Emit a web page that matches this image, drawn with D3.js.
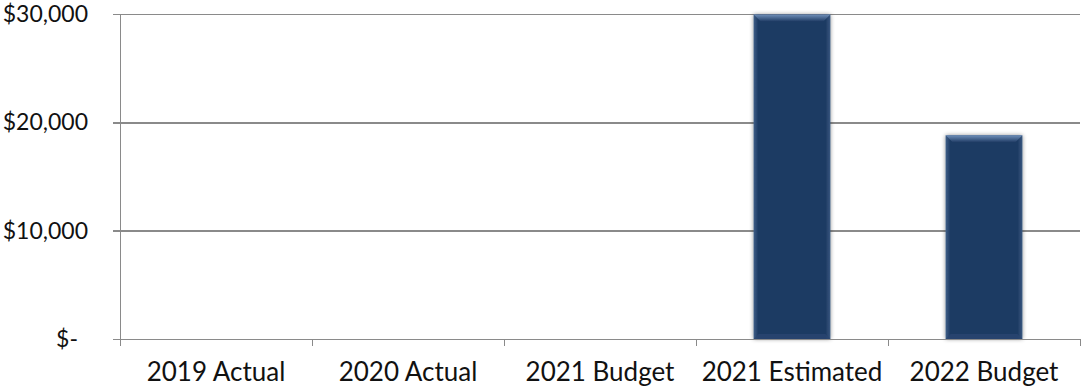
<!DOCTYPE html>
<html lang="en">
<head>
<meta charset="utf-8">
<title>Budget chart</title>
<script src="https://cdn.jsdelivr.net/npm/d3@7"></script>
<style>
  body { margin: 0; background: white; }
  .axis text { font-family: "Century Gothic", Lato, sans-serif; fill: #111; }
  .axis path, .axis line { stroke: #8a8a8a; stroke-width: 1.4px; shape-rendering: crispEdges; }
</style>
</head>
<body>
<div class="chart"></div>
<script>
var categories = ["2019 Actual", "2020 Actual", "2021 Budget", "2021 Estimated", "2022 Budget"];
var values = [0, 0, 0, 29950, 18800];
var yTicks = [0, 10000, 20000, 30000];

var W = 1083, H = 388;
var margin = {top: 14, right: 3, bottom: 49, left: 120};
var width = W - margin.left - margin.right,
    height = H - margin.top - margin.bottom;

var svg = d3.select(".chart").append("svg")
    .attr("width", W).attr("height", H);

var defs = svg.append("defs");
// soft shadow round the bars
var f = defs.append("filter").attr("id", "shadow")
    .attr("x", "-20%").attr("y", "-5%").attr("width", "140%").attr("height", "110%");
f.append("feDropShadow").attr("dx", 0).attr("dy", 0).attr("stdDeviation", 2)
    .attr("flood-color", "#000").attr("flood-opacity", 0.45);
// bevel gradients
var gTop = defs.append("linearGradient").attr("id", "bevTop").attr("x1", 0).attr("y1", 0).attr("x2", 0).attr("y2", 1);
gTop.append("stop").attr("offset", "0%").attr("stop-color", "#6f8fb9");
gTop.append("stop").attr("offset", "100%").attr("stop-color", "#1f3b64");
var gSide = defs.append("linearGradient").attr("id", "bevSide").attr("x1", 0).attr("y1", 0).attr("x2", 1).attr("y2", 0);
gSide.append("stop").attr("offset", "0%").attr("stop-color", "#3f5f88");
gSide.append("stop").attr("offset", "6%").attr("stop-color", "#1f3b64");
gSide.append("stop").attr("offset", "94%").attr("stop-color", "#1f3b64");
gSide.append("stop").attr("offset", "100%").attr("stop-color", "#3a5880");

var g = svg.append("g").attr("transform", "translate(" + margin.left + "," + margin.top + ")");

var x = d3.scaleBand().domain(categories).range([0, width]).paddingInner(0.6).paddingOuter(0.3);
var xTick = d3.scaleBand().domain(categories).range([0, width]);
var y = d3.scaleLinear().domain([0, 30000]).range([height, 0]);

// gridlines + y axis
var yAxis = g.append("g").attr("class", "axis")
    .call(d3.axisLeft(y).tickValues(yTicks).tickSize(7).tickPadding(25)
      .tickFormat(function(d) { return d === 0 ? "$-" : "$" + d3.format(",")(d); }));
yAxis.select(".domain").attr("d", "M0.5," + height + "V0");
yAxis.selectAll(".tick text").attr("font-size", "23px")
    .attr("dx", function(d) { return d === 0 ? -10 : 0; });
yAxis.selectAll(".tick").append("line").attr("class", "grid")
    .attr("x1", 0).attr("x2", width);

// bars
var bars = g.selectAll(".bar").data(values.map(function(v, i) { return {c: categories[i], v: v}; })
    .filter(function(d) { return d.v > 0; }))
  .enter().append("g").attr("class", "bar");
bars.append("rect")
    .attr("x", function(d) { return x(d.c); })
    .attr("y", function(d) { return y(d.v); })
    .attr("width", x.bandwidth())
    .attr("height", function(d) { return height - y(d.v); })
    .attr("fill", "url(#bevSide)")
    .attr("filter", "url(#shadow)");
bars.append("path")
    .attr("d", function(d) {
      var x0 = x(d.c), x1 = x0 + x.bandwidth(), t = y(d.v), b = 7;
      return "M" + x0 + "," + t + "H" + x1 + "L" + (x1 - b) + "," + (t + b) + "H" + (x0 + b) + "Z";
    })
    .attr("fill", "url(#bevTop)");
bars.append("path")
    .attr("d", function(d) {
      var x0 = x(d.c), x1 = x0 + x.bandwidth(), t = height, b = 5;
      return "M" + x0 + "," + t + "H" + x1 + "L" + (x1 - b) + "," + (t - b) + "H" + (x0 + b) + "Z";
    })
    .attr("fill", "#2a4670").attr("opacity", 0.8);

// x axis
var xAxis = g.append("g").attr("class", "axis")
    .attr("transform", "translate(0," + height + ")")
    .call(d3.axisBottom(xTick).tickSize(0).tickPadding(24));
xAxis.select(".domain").attr("d", "M0,0.5H" + width);
xAxis.selectAll(".tick text").attr("font-size", "26px");
var edges = d3.range(categories.length + 1).map(function(i) { return i * xTick.step(); });
xAxis.selectAll(".edge").data(edges).enter().append("line")
    .attr("x1", function(d) { return d + 0.5; }).attr("x2", function(d) { return d + 0.5; })
    .attr("y1", 0).attr("y2", 7);
</script>
</body>
</html>
